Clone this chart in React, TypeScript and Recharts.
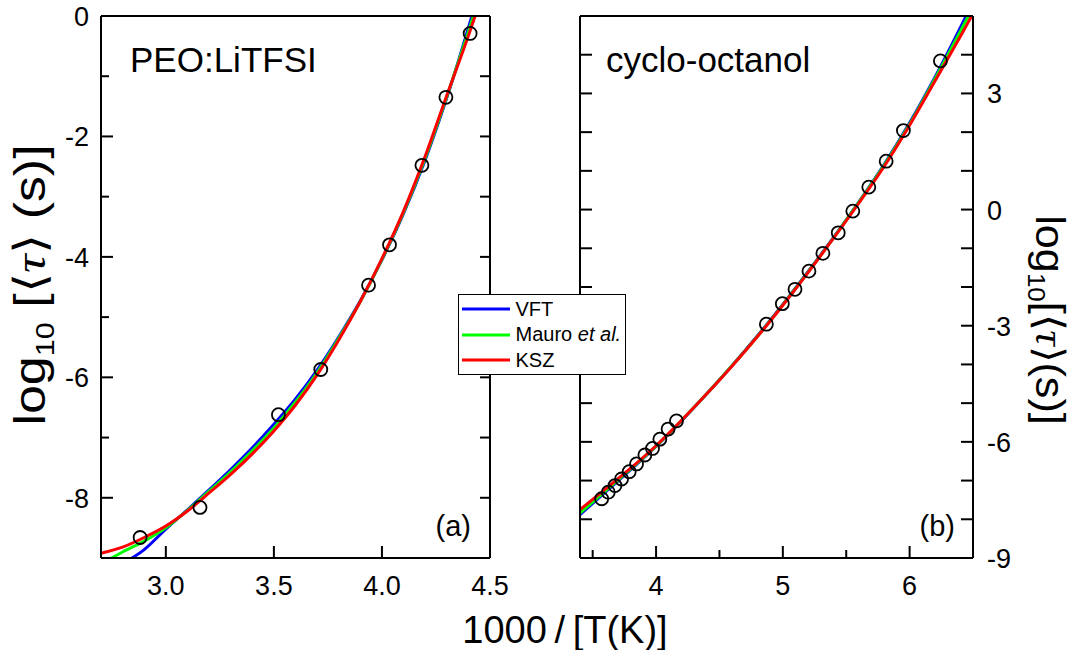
import React from 'react';
import { ComposedChart, Line, Scatter, XAxis, YAxis, Legend } from 'recharts';

const FONT = '"Liberation Sans", Arial, sans-serif';

// panel (a): PEO:LiTFSI -- measured points
const peoInvT = [2.881, 3.158, 3.521, 3.717, 3.938, 4.035, 4.185, 4.296, 4.408];
const peoLogTau = [-8.66, -8.16, -6.62, -5.87, -4.47, -3.80, -2.48, -1.35, -0.29];

// panel (a): fit curves
const peoFitX = [2.7, 2.8, 2.9, 3.0, 3.1, 3.2, 3.3, 3.4, 3.5, 3.6, 3.7, 3.8, 3.9, 4.0, 4.1, 4.2, 4.3, 4.4, 4.45];
const peoVft = [-9.35, -9.10, -8.86, -8.52, -8.20, -7.87, -7.53, -7.17, -6.78, -6.36, -5.88, -5.33, -4.73, -4.05, -3.28, -2.39, -1.36, -0.20, 0.42];
const peoMauro = [-9.10, -8.90, -8.72, -8.50, -8.21, -7.89, -7.57, -7.22, -6.84, -6.41, -5.92, -5.35, -4.74, -4.04, -3.26, -2.36, -1.34, -0.26, 0.30];
const peoKsz = [-8.92, -8.82, -8.66, -8.47, -8.22, -7.92, -7.61, -7.27, -6.89, -6.46, -5.96, -5.38, -4.74, -4.03, -3.24, -2.33, -1.32, -0.33, 0.20];

// panel (b): cyclo-octanol -- measured points
const cycloInvT = [3.571, 3.623, 3.676, 3.728, 3.788, 3.846, 3.912, 3.972, 4.030, 4.095, 4.161,
  4.870, 4.996, 5.096, 5.206, 5.316, 5.437, 5.552, 5.678, 5.815, 5.951, 6.243];
const cycloLogTau = [-7.47, -7.30, -7.13, -6.96, -6.77, -6.57, -6.34, -6.17, -5.93, -5.67, -5.46,
  -2.96, -2.43, -2.06, -1.59, -1.13, -0.60, -0.04, 0.58, 1.25, 2.04, 3.84];

// panel (b): fit curves
const cycloFitX = [3.4, 3.6, 3.8, 4.0, 4.2, 4.4, 4.6, 4.8, 5.0, 5.2, 5.4, 5.6, 5.8, 6.0, 6.2, 6.4, 6.5, 6.55];
const cycloVft = [-7.88, -7.30, -6.72, -6.12, -5.46, -4.76, -4.03, -3.26, -2.45, -1.60, -0.72, 0.20, 1.17, 2.24, 3.42, 4.70, 5.36, 5.70];
const cycloMauro = [-7.84, -7.27, -6.70, -6.11, -5.45, -4.76, -4.03, -3.27, -2.46, -1.61, -0.73, 0.19, 1.15, 2.21, 3.38, 4.60, 5.23, 5.55];
const cycloKsz = [-7.75, -7.22, -6.68, -6.10, -5.45, -4.76, -4.04, -3.28, -2.47, -1.62, -0.74, 0.17, 1.12, 2.18, 3.32, 4.47, 5.06, 5.35];

// ticks
const peoXTicks = [3.0, 3.5, 4.0, 4.5];
const peoYTicks = [-9, -8, -7, -6, -5, -4, -3, -2, -1, 0];
const cycloXTicks = [3.5, 4, 4.5, 5, 5.5, 6];
const cycloYTicks = [-9, -8, -7, -6, -5, -4, -3, -2, -1, 0, 1, 2, 3, 4, 5];

const fits = [
  { key: 'vft', name: 'VFT', color: '#0000ff' },
  { key: 'mauro', name: 'Mauro et al.', color: '#00ff00' },
  { key: 'ksz', name: 'KSZ', color: '#ff0000' },
];

const pts = (xs: number[], ys: number[]) => xs.map((x, i) => ({ x, y: ys[i] }));

const peoData = pts(peoInvT, peoLogTau);
const cycloData = pts(cycloInvT, cycloLogTau);
const peoCurves: Record<string, any[]> = {
  vft: pts(peoFitX, peoVft),
  mauro: pts(peoFitX, peoMauro),
  ksz: pts(peoFitX, peoKsz),
};
const cycloCurves: Record<string, any[]> = {
  vft: pts(cycloFitX, cycloVft),
  mauro: pts(cycloFitX, cycloMauro),
  ksz: pts(cycloFitX, cycloKsz),
};

type Side = 'left' | 'right' | 'top' | 'bottom';

// inward tick with optional label; Recharts hands us the point on the axis line
const tickMark = (side: Side, lenOf: (v: number) => number, labelOf?: (v: number) => string) =>
  (props: any) => {
    const { x, y, payload } = props;
    const v = payload.value;
    const len = lenOf(v);
    const dx = side === 'left' ? len : side === 'right' ? -len : 0;
    const dy = side === 'bottom' ? -len : side === 'top' ? len : 0;
    const label = labelOf ? labelOf(v) : '';
    let lx = x;
    let ly = y;
    let anchor = 'middle';
    if (side === 'bottom') ly = y + 37;
    if (side === 'left') { lx = x - 12; ly = y + 10; anchor = 'end'; }
    if (side === 'right') { lx = x + 14; ly = y + 10; anchor = 'start'; }
    return (
      <g>
        <line x1={x} y1={y} x2={x + dx} y2={y + dy} stroke="#000" strokeWidth={2} />
        {label ? (
          <text x={lx} y={ly} textAnchor={anchor} fontFamily={FONT} fontSize={27} fill="#000">{label}</text>
        ) : null}
      </g>
    );
  };

const axisLine = { stroke: '#000', strokeWidth: 2 };

const ring = (p: any) => (
  <circle cx={p.cx} cy={p.cy} r={6.5} fill="none" stroke="#000" strokeWidth={1.8} />
);

const FitLegend = (props: any) => {
  const order = fits.map((f) => f.name);
  const items = (props.payload || [])
    .filter((e: any) => order.includes(e.value))
    .sort((a: any, b: any) => order.indexOf(a.value) - order.indexOf(b.value));
  return (
    <div style={{
      border: '1.5px solid #000', background: '#fff', width: 168, height: 81, boxSizing: 'border-box',
      paddingTop: 1.5, paddingLeft: 2.5, fontFamily: FONT, fontSize: 20, color: '#000',
    }}>
      {items.map((e: any) => {
        const parts = String(e.value).split(' et al.');
        return (
          <div key={e.value} style={{ display: 'flex', alignItems: 'center', height: 25.5 }}>
            <svg width={48} height={6}>
              <line x1={0} x2={48} y1={3} y2={3} stroke={e.color} strokeWidth={3} />
            </svg>
            <span style={{ marginLeft: 6, whiteSpace: 'nowrap' }}>
              {parts[0]}
              {parts.length > 1 ? <> <i>et al.</i></> : null}
            </span>
          </div>
        );
      })}
    </div>
  );
};

const App = () => {
  return (
    <div style={{ position: 'absolute', left: 0, top: 0, width: 1074, height: 650, background: '#fff' }}>
      {/* (b) cyclo-octanol, drawn first so the legend of (a) sits on top of it */}
      <div style={{ position: 'absolute', left: 0, top: 0 }}>
        <ComposedChart width={1074} height={650} margin={{ top: 6, right: 41, bottom: 52, left: 570 }}>
          <XAxis xAxisId="xb" dataKey="x" type="number" domain={[3.4, 6.5]} allowDataOverflow
            ticks={cycloXTicks} interval={0} height={40} tickSize={0} tickMargin={0} tickLine={false} axisLine={axisLine}
            tick={tickMark('bottom', (v) => (Number.isInteger(v) ? 12 : 8), (v) => (Number.isInteger(v) ? String(v) : ''))} />
          <XAxis xAxisId="xt" orientation="top" type="number" domain={[3.4, 6.5]} allowDataOverflow
            ticks={cycloXTicks} interval={0} height={10} tickSize={0} tickMargin={0} tickLine={false} axisLine={axisLine}
            tick={tickMark('top', (v) => (Number.isInteger(v) ? 12 : 8))} />
          <YAxis yAxisId="yl" dataKey="y" type="number" domain={[-9, 5]} allowDataOverflow
            ticks={cycloYTicks} interval={0} width={10} tickSize={0} tickMargin={0} tickLine={false} axisLine={axisLine}
            tick={tickMark('left', () => 12)} />
          <YAxis yAxisId="yr" orientation="right" type="number" domain={[-9, 5]} allowDataOverflow
            ticks={cycloYTicks} interval={0} width={60} tickSize={0} tickMargin={0} tickLine={false} axisLine={axisLine}
            tick={tickMark('right', () => 12, (v) => (v % 3 === 0 ? String(v) : ''))} />
          {fits.map((f) => (
            <Line key={f.key} xAxisId="xb" yAxisId="yl" data={cycloCurves[f.key]} dataKey="y" name={f.name}
              type="monotone" stroke={f.color} strokeWidth={3} dot={false} activeDot={false}
              isAnimationActive={false} />
          ))}
          <Scatter xAxisId="xb" yAxisId="yl" data={cycloData} shape={ring} legendType="none" isAnimationActive={false} />
        </ComposedChart>
      </div>

      {/* (a) PEO:LiTFSI */}
      <div style={{ position: 'absolute', left: 0, top: 0 }}>
        <ComposedChart width={1074} height={650} margin={{ top: 6, right: 574, bottom: 52, left: 41 }}>
          <XAxis xAxisId="xb" dataKey="x" type="number" domain={[2.7, 4.5]} allowDataOverflow
            ticks={peoXTicks} interval={0} height={40} tickSize={0} tickMargin={0} tickLine={false} axisLine={axisLine}
            tick={tickMark('bottom', () => 12, (v) => v.toFixed(1))} />
          <XAxis xAxisId="xt" orientation="top" type="number" domain={[2.7, 4.5]} allowDataOverflow
            ticks={peoXTicks} interval={0} height={10} tickSize={0} tickMargin={0} tickLine={false} axisLine={axisLine}
            tick={tickMark('top', () => 12)} />
          <YAxis yAxisId="yl" dataKey="y" type="number" domain={[-9, 0]} allowDataOverflow
            ticks={peoYTicks} interval={0} width={60} tickSize={0} tickMargin={0} tickLine={false} axisLine={axisLine}
            tick={tickMark('left', (v) => (v % 2 === 0 ? 12 : 8), (v) => (v % 2 === 0 ? String(v) : ''))} />
          <YAxis yAxisId="yr" orientation="right" type="number" domain={[-9, 0]} allowDataOverflow
            ticks={peoYTicks} interval={0} width={10} tickSize={0} tickMargin={0} tickLine={false} axisLine={axisLine}
            tick={tickMark('right', () => 10)} />
          {fits.map((f) => (
            <Line key={f.key} xAxisId="xb" yAxisId="yl" data={peoCurves[f.key]} dataKey="y" name={f.name}
              type="monotone" stroke={f.color} strokeWidth={3} dot={false} activeDot={false}
              isAnimationActive={false} />
          ))}
          <Scatter xAxisId="xb" yAxisId="yl" data={peoData} shape={ring} legendType="none" isAnimationActive={false} />
          <Legend layout="horizontal" verticalAlign="middle" align="center"
            wrapperStyle={{ left: 458, top: 294, width: 168, height: 81 }} content={FitLegend} />
        </ComposedChart>
      </div>

      {/* titles and panel labels */}
      <svg width={1074} height={650} style={{ position: 'absolute', left: 0, top: 0, pointerEvents: 'none' }}
        fontFamily={FONT} fill="#000">
        <text x={130} y={72} fontSize={35}>PEO:LiTFSI</text>
        <text x={606} y={72} fontSize={35}>cyclo-octanol</text>
        <text x={471} y={536} fontSize={29} textAnchor="end">(a)</text>
        <text x={955} y={536} fontSize={29} textAnchor="end">(b)</text>
        <text x={565} y={643} fontSize={38} textAnchor="middle">{'1000\u2009/\u2009[T(K)]'}</text>
        <text transform="translate(45,285) rotate(-90) scale(1.18,1)" fontSize={44} textAnchor="middle">
          log<tspan fontSize={26} dy={9}>10</tspan><tspan dy={-9}>{' [\u27E8'}</tspan>
          <tspan fontFamily='"Liberation Serif", serif' fontStyle="italic">τ</tspan>{'\u27E9 (s)]'}
        </text>
        <text transform="translate(1036,320) rotate(90) scale(1.08,1)" fontSize={40} textAnchor="middle">
          log<tspan fontSize={24} dy={8}>10</tspan><tspan dy={-8}>{'[\u27E8'}</tspan>
          <tspan fontFamily='"Liberation Serif", serif' fontStyle="italic">τ</tspan>{'\u27E9(s)]'}
        </text>
      </svg>
    </div>
  );
};

export default App;
